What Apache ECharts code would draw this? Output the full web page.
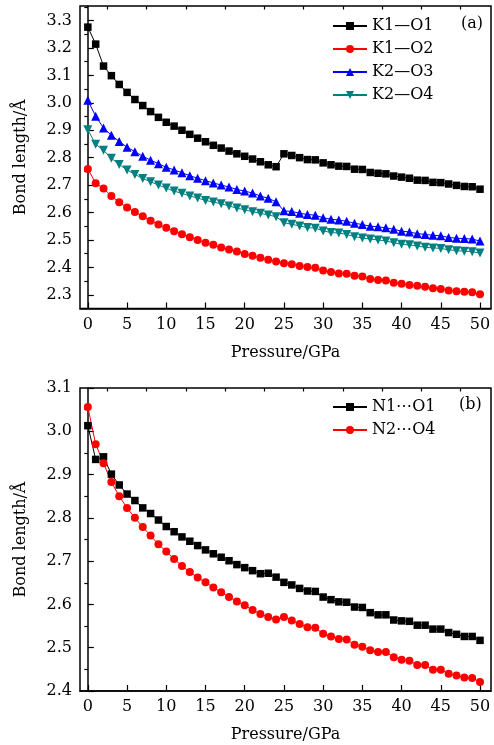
<!DOCTYPE html>
<html>
<head>
<meta charset="utf-8">
<script src="https://cdn.jsdelivr.net/npm/echarts@6/dist/echarts.min.js"></script>
<style>
html, body { margin: 0; padding: 0; background: #fff; }
#charts { width: 494px; height: 745px; }
</style>
</head>
<body>
<div id="charts"></div>
<script>
var pressure = [0, 1, 2, 3, 4, 5, 6, 7, 8, 9, 10, 11, 12, 13, 14, 15, 16, 17, 18, 19, 20,
    21, 22, 23, 24, 25, 26, 27, 28, 29, 30, 31, 32, 33, 34, 35, 36, 37, 38, 39, 40,
    41, 42, 43, 44, 45, 46, 47, 48, 49, 50];

// (a) K-O bond lengths
var k1o1 = [3.276, 3.214, 3.134, 3.099, 3.067, 3.038, 3.012, 2.990, 2.968, 2.947, 2.929,
    2.915, 2.900, 2.885, 2.871, 2.858, 2.845, 2.835, 2.824, 2.814, 2.805,
    2.795, 2.785, 2.774, 2.767, 2.814, 2.808, 2.800, 2.793, 2.792, 2.781,
    2.774, 2.769, 2.768, 2.758, 2.757, 2.746, 2.743, 2.741, 2.733, 2.729,
    2.725, 2.718, 2.717, 2.710, 2.709, 2.704, 2.699, 2.695, 2.694, 2.685];
var k1o2 = [2.759, 2.707, 2.688, 2.660, 2.637, 2.618, 2.602, 2.586, 2.570, 2.556, 2.544,
    2.532, 2.521, 2.510, 2.500, 2.490, 2.482, 2.472, 2.465, 2.458, 2.449,
    2.442, 2.435, 2.428, 2.421, 2.415, 2.411, 2.405, 2.401, 2.399, 2.389,
    2.383, 2.378, 2.377, 2.369, 2.367, 2.358, 2.354, 2.352, 2.344, 2.340,
    2.336, 2.333, 2.329, 2.324, 2.321, 2.316, 2.313, 2.311, 2.309, 2.302];
var k2o3 = [3.009, 2.951, 2.908, 2.882, 2.859, 2.838, 2.822, 2.805, 2.791, 2.778, 2.765,
    2.755, 2.745, 2.734, 2.725, 2.716, 2.708, 2.700, 2.693, 2.684, 2.678,
    2.671, 2.660, 2.652, 2.639, 2.606, 2.604, 2.597, 2.593, 2.590, 2.581,
    2.575, 2.573, 2.568, 2.561, 2.556, 2.550, 2.548, 2.544, 2.539, 2.532,
    2.529, 2.523, 2.520, 2.517, 2.515, 2.509, 2.506, 2.505, 2.503, 2.496];
var k2o4 = [2.902, 2.849, 2.827, 2.798, 2.775, 2.755, 2.739, 2.724, 2.712, 2.700, 2.689,
    2.678, 2.670, 2.660, 2.653, 2.644, 2.638, 2.632, 2.624, 2.616, 2.610,
    2.603, 2.597, 2.591, 2.585, 2.563, 2.557, 2.551, 2.545, 2.543, 2.533,
    2.527, 2.525, 2.520, 2.512, 2.507, 2.503, 2.500, 2.496, 2.490, 2.484,
    2.482, 2.478, 2.473, 2.471, 2.469, 2.464, 2.461, 2.459, 2.457, 2.452];

// (b) N...O distances
var n1o1 = [3.013, 2.935, 2.941, 2.901, 2.876, 2.855, 2.840, 2.823, 2.810, 2.795, 2.780,
    2.768, 2.756, 2.746, 2.736, 2.726, 2.717, 2.709, 2.701, 2.692, 2.685,
    2.678, 2.671, 2.672, 2.663, 2.651, 2.645, 2.637, 2.631, 2.630, 2.617,
    2.611, 2.606, 2.605, 2.594, 2.593, 2.581, 2.576, 2.576, 2.564, 2.562,
    2.561, 2.552, 2.552, 2.543, 2.543, 2.535, 2.531, 2.526, 2.526, 2.517];
var n2o4 = [3.056, 2.970, 2.926, 2.883, 2.850, 2.823, 2.800, 2.779, 2.759, 2.739, 2.722,
    2.705, 2.689, 2.675, 2.662, 2.651, 2.639, 2.628, 2.617, 2.607, 2.598,
    2.587, 2.578, 2.571, 2.565, 2.571, 2.563, 2.555, 2.547, 2.546, 2.532,
    2.526, 2.520, 2.519, 2.507, 2.502, 2.494, 2.490, 2.490, 2.478, 2.472,
    2.470, 2.460, 2.460, 2.449, 2.449, 2.440, 2.436, 2.431, 2.430, 2.421];

var xMajorTicks = [0, 5, 10, 15, 20, 25, 30, 35, 40, 45, 50];
var xMinorTicks = [2.5, 7.5, 12.5, 17.5, 22.5, 27.5, 32.5, 37.5, 42.5, 47.5];
var yTopMajorTicks = [2.3, 2.4, 2.5, 2.6, 2.7, 2.8, 2.9, 3.0, 3.1, 3.2, 3.3];
var yTopMinorTicks = [2.25, 2.35, 2.45, 2.55, 2.65, 2.75, 2.85, 2.95, 3.05, 3.15, 3.25, 3.35];
var yBotMajorTicks = [2.4, 2.5, 2.6, 2.7, 2.8, 2.9, 3.0, 3.1];
var yBotMinorTicks = [2.45, 2.55, 2.65, 2.75, 2.85, 2.95, 3.05];

var FONT = 'DejaVu Serif';

function pairs(ys) {
    return pressure.map(function (p, i) { return [p, ys[i]]; });
}

function majorX(grid) {
    return {
        gridIndex: grid, type: 'value', min: -1, max: 51.4,
        axisLine: { lineStyle: { color: '#000', width: 1.5 } },
        axisTick: { inside: true, length: 6, customValues: xMajorTicks, lineStyle: { color: '#000', width: 1.2 } },
        axisLabel: { customValues: xMajorTicks, color: '#000', fontFamily: FONT, fontSize: 16, margin: 8 },
        splitLine: { show: false },
        name: 'Pressure/GPa', nameLocation: 'middle', nameGap: 36,
        nameTextStyle: { color: '#000', fontFamily: FONT, fontSize: 16 }
    };
}
function minorX(grid) {
    return {
        gridIndex: grid, type: 'value', min: -1, max: 51.4,
        axisLine: { show: false },
        axisTick: { inside: true, length: 3.5, customValues: xMinorTicks, lineStyle: { color: '#000', width: 1.2 } },
        axisLabel: { show: false },
        splitLine: { show: false }
    };
}
function majorY(grid, min, max, ticks) {
    return {
        gridIndex: grid, type: 'value', min: min, max: max,
        axisLine: { show: true, lineStyle: { color: '#000', width: 1.5 } },
        axisTick: { show: true, inside: true, length: 6, customValues: ticks, lineStyle: { color: '#000', width: 1.2 } },
        axisLabel: {
            customValues: ticks, color: '#000', fontFamily: FONT, fontSize: 16, margin: 8,
            formatter: function (v) { return v.toFixed(1); }
        },
        splitLine: { show: false },
        name: 'Bond length/Å', nameLocation: 'middle', nameGap: 51,
        nameTextStyle: { color: '#000', fontFamily: FONT, fontSize: 16 }
    };
}
function minorY(grid, min, max, ticks) {
    return {
        gridIndex: grid, type: 'value', min: min, max: max,
        axisLine: { show: false },
        axisTick: { show: true, inside: true, length: 3.5, customValues: ticks, lineStyle: { color: '#000', width: 1.2 } },
        axisLabel: { show: false },
        splitLine: { show: false }
    };
}

function lineSeries(name, data, color, symbol, rotate, size, xi, yi) {
    return {
        name: name, type: 'line', xAxisIndex: xi, yAxisIndex: yi,
        data: pairs(data),
        symbol: symbol, symbolSize: size, symbolRotate: rotate,
        color: color,
        lineStyle: { color: color, width: 1 },
        itemStyle: { color: color },
        z: 3
    };
}

var legendText = { color: '#000', fontFamily: FONT, fontSize: 16 };

var myChart = echarts.init(document.getElementById('charts'));
var option = {
    animation: false,
    backgroundColor: '#fff',
    title: [
        { text: '(a)', left: 461, top: 16, padding: 0, textStyle: { color: '#000', fontFamily: FONT, fontSize: 16, fontWeight: 'normal' } },
        { text: '(b)', left: 459, top: 397, padding: 0, textStyle: { color: '#000', fontFamily: FONT, fontSize: 16, fontWeight: 'normal' } }
    ],
    legend: [
        {
            data: ['K1—O1', 'K1—O2', 'K2—O3', 'K2—O4'],
            orient: 'vertical', left: 332, top: 18, padding: 0,
            itemWidth: 34, itemHeight: 10, itemGap: 7, textStyle: legendText
        },
        {
            data: ['N1⋯O1', 'N2⋯O4'],
            orient: 'vertical', left: 332, top: 399, padding: 0,
            itemWidth: 34, itemHeight: 10, itemGap: 7, textStyle: legendText
        }
    ],
    grid: [
        { left: 80, top: 6, width: 411, height: 302.5, show: true, borderColor: '#000', borderWidth: 1.5 },
        { left: 80, top: 388, width: 411, height: 303, show: true, borderColor: '#000', borderWidth: 1.5 }
    ],
    xAxis: [majorX(0), minorX(0), majorX(1), minorX(1)],
    yAxis: [
        majorY(0, 2.25, 3.353, yTopMajorTicks), minorY(0, 2.25, 3.353, yTopMinorTicks),
        majorY(1, 2.4, 3.1, yBotMajorTicks), minorY(1, 2.4, 3.1, yBotMinorTicks)
    ],
    series: [
        lineSeries('K1—O1', k1o1, '#000000', 'rect', 0, 7.5, 0, 0),
        lineSeries('K1—O2', k1o2, '#ff0000', 'circle', 0, 8, 0, 0),
        lineSeries('K2—O3', k2o3, '#0000ff', 'triangle', 0, 9, 0, 0),
        lineSeries('K2—O4', k2o4, '#008080', 'triangle', 180, 9, 0, 0),
        lineSeries('N1⋯O1', n1o1, '#000000', 'rect', 0, 7.5, 2, 2),
        lineSeries('N2⋯O4', n2o4, '#ff0000', 'circle', 0, 8, 2, 2)
    ]
};
myChart.setOption(option);
</script>
</body>
</html>
